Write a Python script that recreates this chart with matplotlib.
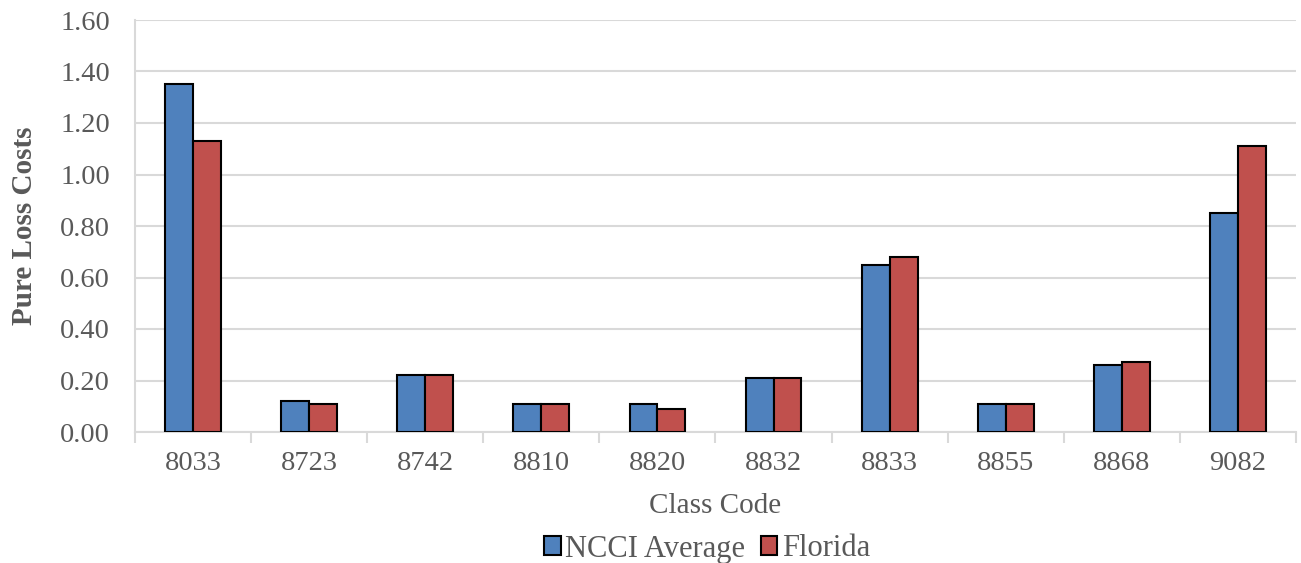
import matplotlib.pyplot as plt
import numpy as np

plt.rcParams['font.family'] = ['Liberation Serif', 'DejaVu Serif']

class_codes = ['8033', '8723', '8742', '8810', '8820', '8832', '8833', '8855', '8868', '9082']
ncci_average = [1.35, 0.12, 0.22, 0.11, 0.11, 0.21, 0.65, 0.11, 0.26, 0.85]
florida = [1.13, 0.11, 0.22, 0.11, 0.09, 0.21, 0.68, 0.11, 0.27, 1.11]

fig = plt.figure(figsize=(13.01, 5.63), dpi=100)
ax = fig.add_axes([135/1301, 1 - 432/563, (1296 - 135)/1301, (432 - 20)/563])

x = np.arange(len(class_codes))
w = 0.24
grey = '#595959'
ax.bar(x - w/2, ncci_average, w, color='#4F81BD', edgecolor='black', linewidth=1.5,
       label='NCCI Average', zorder=3)
ax.bar(x + w/2, florida, w, color='#C0504D', edgecolor='black', linewidth=1.5,
       label='Florida', zorder=3)

ax.set_xlim(-0.5, len(class_codes) - 0.5)
ax.set_ylim(0, 1.6)
ax.set_yticks(np.arange(0, 1.61, 0.2))
ax.set_yticklabels(['%.2f' % v for v in np.arange(0, 1.61, 0.2)])
ax.yaxis.grid(True, color='#D9D9D9', linewidth=1.5, zorder=0)
ax.set_axisbelow(True)

ax.set_xticks(x)
ax.set_xticklabels(class_codes)
ax.set_xticks(np.arange(-0.5, len(class_codes)), minor=True)
ax.tick_params(axis='x', which='major', length=0, pad=14, labelsize=20.5, labelcolor=grey)
ax.tick_params(axis='x', which='minor', length=8, width=1.5, color='#D9D9D9')
ax.tick_params(axis='y', length=0, pad=18, labelsize=20.5, labelcolor=grey)

for s in ['top', 'right']:
    ax.spines[s].set_visible(False)
for s in ['left', 'bottom']:
    ax.spines[s].set_color('#D9D9D9')
    ax.spines[s].set_linewidth(1.5)

ax.set_xlabel('Class Code', fontsize=21, color=grey, labelpad=12)
ax.set_ylabel('Pure Loss Costs', fontsize=21, color=grey, fontweight='bold', labelpad=16)

leg = fig.legend(loc='center', bbox_to_anchor=(707/1301, 14/563), ncol=2, frameon=False,
                 fontsize=22, handlelength=0.55, handleheight=0.55, handletextpad=0.15,
                 columnspacing=0.5, borderpad=0)
for t in leg.get_texts():
    t.set_color(grey)

fig.savefig('out.png', dpi=100)
